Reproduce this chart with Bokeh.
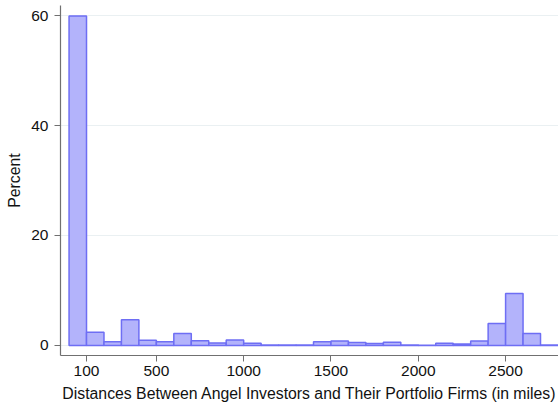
from bokeh.plotting import figure
from bokeh.models import FixedTicker, Range1d
from bokeh.embed import file_html
from bokeh.resources import INLINE

# Histogram bins (miles) and percent per bin
bin_left = [0, 100, 200, 300, 400, 500, 600, 700, 800, 900, 1000, 1100, 1200, 1300,
            1400, 1500, 1600, 1700, 1800, 1900, 2000, 2100, 2200, 2300, 2400, 2500, 2600, 2700]
bin_right = [100, 200, 300, 400, 500, 600, 700, 800, 900, 1000, 1100, 1200, 1300, 1400,
             1500, 1600, 1700, 1800, 1900, 2000, 2100, 2200, 2300, 2400, 2500, 2600, 2700, 2800]
percent = [59.9, 2.4, 0.7, 4.7, 0.95, 0.7, 2.2, 0.85, 0.45, 1.0, 0.4, 0.1, 0.1, 0.1,
           0.7, 0.8, 0.55, 0.35, 0.6, 0.1, 0.05, 0.4, 0.25, 0.8, 4.0, 9.45, 2.2, 0.1]
x_ticks = [100, 500, 1000, 1500, 2000, 2500]
y_ticks = [0, 20, 40, 60]

p = figure(width=558, height=409, output_backend="svg", toolbar_location=None,
           x_range=Range1d(-49, 2803), y_range=Range1d(-1.82, 61.82),
           min_border_left=60, min_border_right=0, min_border_top=5, min_border_bottom=54)

p.quad(left=bin_left, right=bin_right, bottom=0, top=percent,
       fill_color="#b3b3fb", line_color="#6e6ef4", line_width=1.5)

p.outline_line_color = None
p.background_fill_color = "white"
p.xgrid.grid_line_color = None
p.ygrid.grid_line_color = "#eaf0f2"
p.ygrid.grid_line_width = 1

p.xaxis.ticker = FixedTicker(ticks=x_ticks)
p.yaxis.ticker = FixedTicker(ticks=y_ticks)
for ax in (p.xaxis, p.yaxis):
    ax.axis_line_color = "#707070"
    ax.axis_line_width = 1.2
    ax.major_tick_line_color = "#707070"
    ax.major_tick_out = 6
    ax.major_tick_in = 0
    ax.minor_tick_line_color = None
    ax.major_label_text_font = "Liberation Sans"
    ax.major_label_text_font_size = "15.5px"
    ax.major_label_text_color = "#111111"
    ax.axis_label_text_font = "Liberation Sans"
    ax.axis_label_text_font_size = "15.8px"
    ax.axis_label_text_font_style = "normal"
    ax.axis_label_text_color = "#111111"
p.xaxis.major_label_standoff = 4
p.yaxis.major_label_standoff = 6
p.xaxis.axis_label = "Distances Between Angel Investors and Their Portfolio Firms (in miles)"
p.yaxis.axis_label = "Percent"
p.xaxis.axis_label_standoff = 6
p.yaxis.axis_label_standoff = 5

open("out.html", "w").write(file_html(p, INLINE))
